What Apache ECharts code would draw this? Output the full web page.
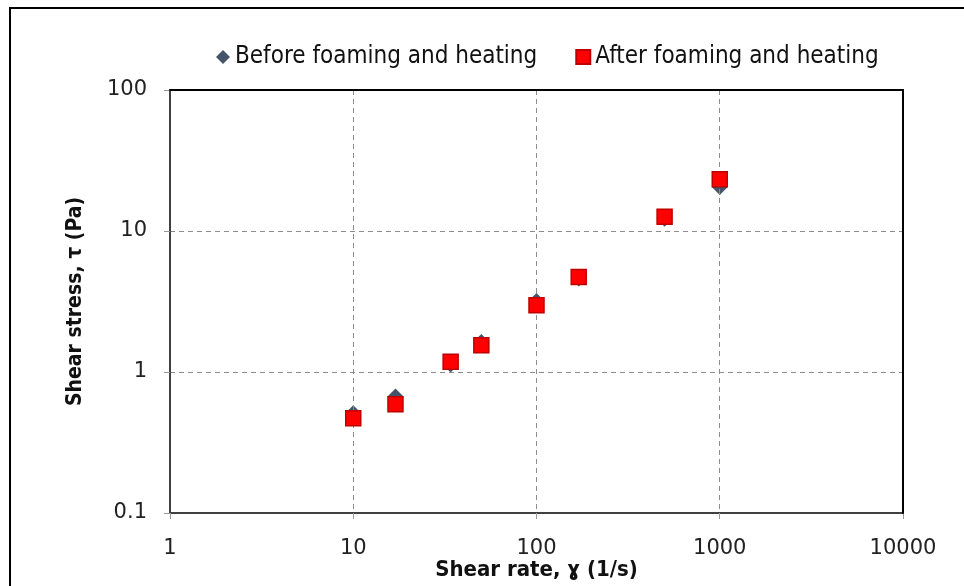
<!DOCTYPE html>
<html>
<head>
<meta charset="utf-8">
<script src="https://cdn.jsdelivr.net/npm/echarts@6/dist/echarts.min.js"></script>
<style>
  html, body { margin: 0; padding: 0; background: #fff; }
  #chart { width: 964px; height: 586px; }
</style>
</head>
<body>
<div id="chart"></div>
<script>
// Shear rates (1/s) at which both samples were measured
const shearRates = [10, 17, 34, 50, 100, 170, 500, 1000];
// Shear stress (Pa) before foaming and heating
const stressBefore = [0.51, 0.67, 1.13, 1.63, 3.19, 4.6, 12.2, 20.5];
// Shear stress (Pa) after foaming and heating
const stressAfter = [0.47, 0.59, 1.18, 1.55, 2.97, 4.72, 12.6, 23.3];

const seriesNames = ['Before foaming and heating', 'After foaming and heating'];
const xTitle = 'Shear rate, \u0263 (1/s)';
const yTitle = 'Shear stress, \u03c4 (Pa)';

const pairs = (xs, ys) => xs.map((x, i) => [x, ys[i]]);

const narrow = '"Liberation Sans Narrow", "DejaVu Sans Condensed", "Liberation Sans", sans-serif';
const wide = '"DejaVu Sans", "Liberation Sans", sans-serif';

// Axis used only to draw the plain black frame on the top and right sides
const frameAxis = (extra) => Object.assign({
  type: 'log',
  logBase: 10,
  axisLine: { show: true, onZero: false, lineStyle: { color: '#000', width: 2 } },
  axisTick: { show: false },
  axisLabel: { show: false },
  splitLine: { show: false }
}, extra);

const chart = echarts.init(document.getElementById('chart'), null, { renderer: 'canvas' });
chart.setOption({
  backgroundColor: '#ffffff',
  animation: false,
  graphic: [{
    type: 'rect',
    shape: { x: 10, y: 8, width: 1000, height: 1000 },
    style: { fill: 'none', stroke: '#000', lineWidth: 2 },
    z: 100
  }],
  legend: {
    top: 40,
    left: 211,
    itemGap: 38,
    itemWidth: 14,
    itemHeight: 14,
    textStyle: { fontFamily: narrow, fontSize: 24, color: '#111' },
    data: [
      { name: seriesNames[0], icon: 'diamond' },
      { name: seriesNames[1], icon: 'rect' }
    ]
  },
  grid: {
    left: 170, top: 90, width: 733, height: 423,
    show: false,
    containLabel: false,
    outerBoundsMode: 'none'
  },
  xAxis: [{
    type: 'log',
    logBase: 10,
    min: 1,
    max: 10000,
    name: xTitle,
    nameLocation: 'middle',
    nameGap: 46,
    nameMoveOverlap: false,
    nameTextStyle: { fontFamily: narrow, fontSize: 22, fontWeight: 'bold', color: '#111' },
    axisLine: { show: true, onZero: false, lineStyle: { color: '#404040', width: 2 } },
    axisTick: { show: true, inside: false, length: 6, lineStyle: { color: '#999', width: 1 } },
    axisLabel: { margin: 25, fontFamily: wide, fontSize: 21, color: '#222', formatter: v => String(v) },
    splitLine: { show: true, lineStyle: { color: '#8c8c8c', type: [5, 4], width: 1 } },
    z: 3
  }, frameAxis({ position: 'top', min: 1, max: 10000, z: 4 })],
  yAxis: [{
    type: 'log',
    logBase: 10,
    min: 0.1,
    max: 100,
    name: yTitle,
    nameLocation: 'middle',
    nameGap: 84,
    nameMoveOverlap: false,
    nameRotate: 90,
    nameTextStyle: { fontFamily: narrow, fontSize: 21, fontWeight: 'bold', color: '#111' },
    axisLine: { show: true, onZero: false, lineStyle: { color: '#404040', width: 2 } },
    axisTick: { show: true, inside: false, length: 6, lineStyle: { color: '#999', width: 1 } },
    axisLabel: { margin: 23, fontFamily: wide, fontSize: 21, color: '#222', formatter: v => String(v) },
    splitLine: { show: true, lineStyle: { color: '#8c8c8c', type: [5, 4], width: 1 } },
    z: 3
  }, frameAxis({ position: 'right', min: 0.1, max: 100, z: 4 })],
  series: [
    {
      name: seriesNames[0],
      type: 'scatter',
      symbol: 'diamond',
      symbolSize: 16,
      itemStyle: { color: '#44546A', opacity: 1 },
      data: pairs(shearRates, stressBefore),
      z: 2
    },
    {
      name: seriesNames[1],
      type: 'scatter',
      symbol: 'rect',
      symbolSize: 15,
      itemStyle: { color: '#FF0000', borderColor: '#C00000', borderWidth: 1.5, opacity: 1 },
      data: pairs(shearRates, stressAfter),
      z: 3
    }
  ]
});
</script>
</body>
</html>
